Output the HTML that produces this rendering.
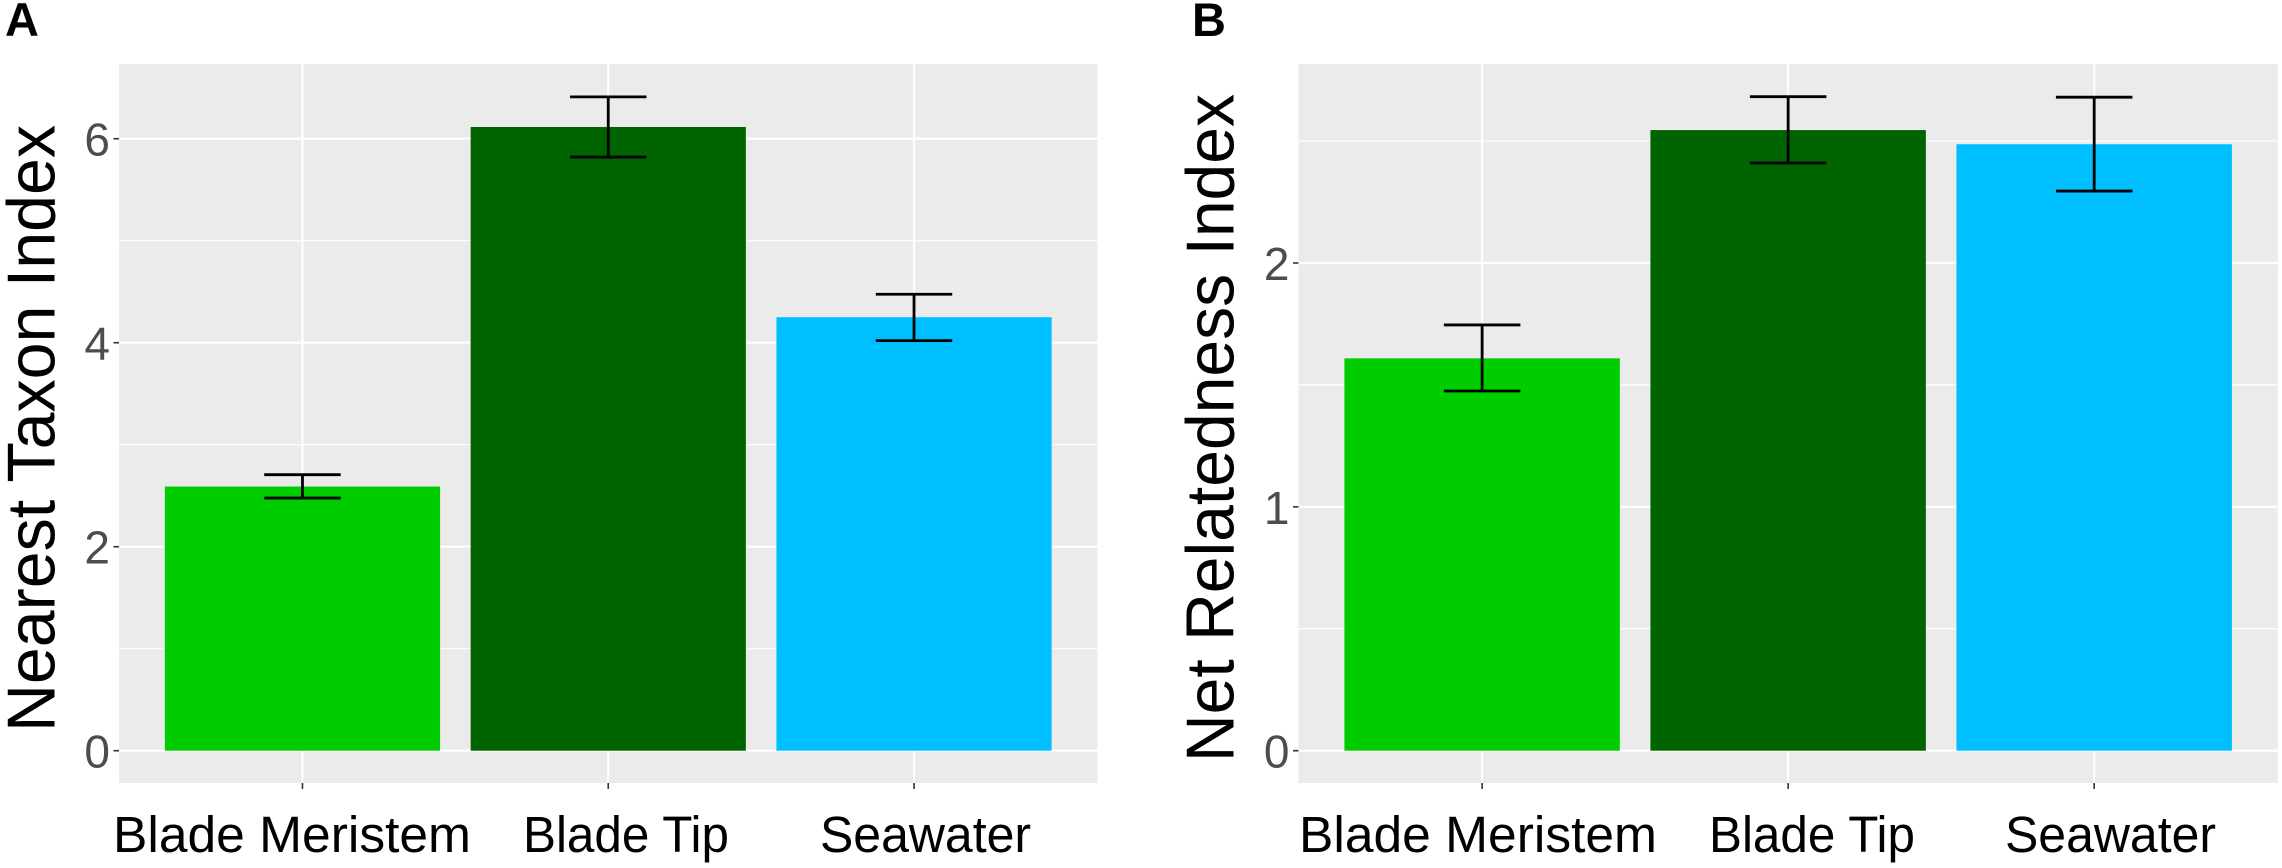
<!DOCTYPE html>
<html lang="en">
<head>
<meta charset="utf-8">
<title>Nearest Taxon Index and Net Relatedness Index</title>
<style>
  html, body { margin: 0; padding: 0; background: #fff; }
  svg { display: block; font-family: "Liberation Sans", sans-serif; }
</style>
</head>
<body>
<svg id="figure" xmlns="http://www.w3.org/2000/svg" width="2282" height="868" viewBox="0 0 2282 868">
  <rect x="0" y="0" width="2282" height="868" fill="#ffffff"/>
  <text x="5" y="36" font-size="47" font-weight="700" fill="#000">A</text>
  <text x="1192" y="36" font-size="47" font-weight="700" fill="#000">B</text>
  <g id="panel-a"></g>
  <g id="panel-b"></g>
  <text transform="translate(54.5,732) rotate(-90)" font-size="68" textLength="607" lengthAdjust="spacingAndGlyphs" fill="#000">Nearest Taxon Index</text>
  <text transform="translate(1233.5,762) rotate(-90)" font-size="68" textLength="668" lengthAdjust="spacingAndGlyphs" fill="#000">Net Relatedness Index</text>
  <text x="113" y="852" font-size="51" textLength="358" lengthAdjust="spacingAndGlyphs" fill="#000">Blade Meristem</text>
  <text x="523" y="852" font-size="51" textLength="206" lengthAdjust="spacingAndGlyphs" fill="#000">Blade Tip</text>
  <text x="820" y="852" font-size="51" textLength="211" lengthAdjust="spacingAndGlyphs" fill="#000">Seawater</text>
  <text x="1299" y="852" font-size="51" textLength="358" lengthAdjust="spacingAndGlyphs" fill="#000">Blade Meristem</text>
  <text x="1709" y="852" font-size="51" textLength="206" lengthAdjust="spacingAndGlyphs" fill="#000">Blade Tip</text>
  <text x="2005" y="852" font-size="51" textLength="211" lengthAdjust="spacingAndGlyphs" fill="#000">Seawater</text>
</svg>
<script>
const categories = ["Blade Meristem", "Blade Tip", "Seawater"];
const barColors = ["#00cd00", "#006400", "#00bfff"];

const ntiValues = [2.59, 6.115, 4.25];
const ntiUpper = [2.706, 6.41, 4.475];
const ntiLower = [2.477, 5.82, 4.02];
const ntiMajorTicks = [0, 2, 4, 6];
const ntiMinorTicks = [1, 3, 5];

const nriValues = [1.609, 2.545, 2.487];
const nriUpper = [1.746, 2.682, 2.68];
const nriLower = [1.475, 2.41, 2.295];
const nriMajorTicks = [0, 1, 2];
const nriMinorTicks = [0.5, 1.5, 2.5];

const SVG_NS = "http://www.w3.org/2000/svg";

function addLine(parent, x1, y1, x2, y2, stroke, width) {
  const el = document.createElementNS(SVG_NS, "line");
  el.setAttribute("x1", x1);
  el.setAttribute("y1", y1);
  el.setAttribute("x2", x2);
  el.setAttribute("y2", y2);
  el.setAttribute("stroke", stroke);
  el.setAttribute("stroke-width", width);
  parent.appendChild(el);
  return el;
}

function drawPanel(cfg) {
  const g = document.getElementById(cfg.id);
  const left = cfg.left, right = cfg.right, top = 64, bottom = 783;
  const unitX = (right - left) / 3.2;
  const xAxis = function (i) { return left + (i + 0.6) * unitX; };
  const yAxis = function (v) {
    return bottom - (v - cfg.yMin) / (cfg.yMax - cfg.yMin) * (bottom - top);
  };

  const bg = document.createElementNS(SVG_NS, "rect");
  
  
  bg.setAttribute("x", left);
  bg.setAttribute("y", top);
  bg.setAttribute("width", right - left);
  bg.setAttribute("height", bottom - top);
  bg.setAttribute("fill", "#ebebeb");
  g.appendChild(bg);

  cfg.minorTicks.forEach(function (t) {
    const el = addLine(g, left, yAxis(t), right, yAxis(t), "#ffffff", 1.2);
    
    
  });

  cfg.majorTicks.forEach(function (t) {
    const grid = addLine(g, left, yAxis(t), right, yAxis(t), "#ffffff", 2.2);
    
    
    const tick = addLine(g, left - 5.5, yAxis(t), left, yAxis(t), "#333333", 1.6);
    
    
    const label = document.createElementNS(SVG_NS, "text");
    
    
    label.setAttribute("x", left - 9);
    label.setAttribute("y", yAxis(t) + 17);
    label.setAttribute("text-anchor", "end");
    label.setAttribute("font-size", "46");
    label.setAttribute("fill", "#4d4d4d");
    label.textContent = String(t);
    g.appendChild(label);
  });

  categories.forEach(function (c, i) {
    const cx = xAxis(i);
    const grid = addLine(g, cx, top, cx, bottom, "#ffffff", 2);
    
    
    const tick = addLine(g, cx, bottom, cx, bottom + 6, "#333333", 1.6);
    
    
  });

  categories.forEach(function (c, i) {
    const cx = xAxis(i);
    const barW = 0.9 * unitX;
    const capW = 0.25 * unitX;
    const bar = document.createElementNS(SVG_NS, "rect");
    
    
    bar.setAttribute("x", cx - barW / 2);
    bar.setAttribute("y", yAxis(cfg.values[i]));
    bar.setAttribute("width", barW);
    bar.setAttribute("height", yAxis(0) - yAxis(cfg.values[i]));
    bar.setAttribute("fill", barColors[i]);
    g.appendChild(bar);

    const stem = addLine(g, cx, yAxis(cfg.upper[i]), cx, yAxis(cfg.lower[i]), "#000000", 2.8);
    
    
    const capTop = addLine(g, cx - capW / 2, yAxis(cfg.upper[i]), cx + capW / 2, yAxis(cfg.upper[i]), "#000000", 2.8);
    
    
    const capBottom = addLine(g, cx - capW / 2, yAxis(cfg.lower[i]), cx + capW / 2, yAxis(cfg.lower[i]), "#000000", 2.8);
    
    
  });
}

drawPanel({
  id: "panel-a", left: 119, right: 1097.5, yMin: -0.3167, yMax: 6.7324,
  values: ntiValues, upper: ntiUpper, lower: ntiLower,
  majorTicks: ntiMajorTicks, minorTicks: ntiMinorTicks
});
drawPanel({
  id: "panel-b", left: 1298.5, right: 2277.8, yMin: -0.1325, yMax: 2.816,
  values: nriValues, upper: nriUpper, lower: nriLower,
  majorTicks: nriMajorTicks, minorTicks: nriMinorTicks
});
</script>
</body>
</html>
